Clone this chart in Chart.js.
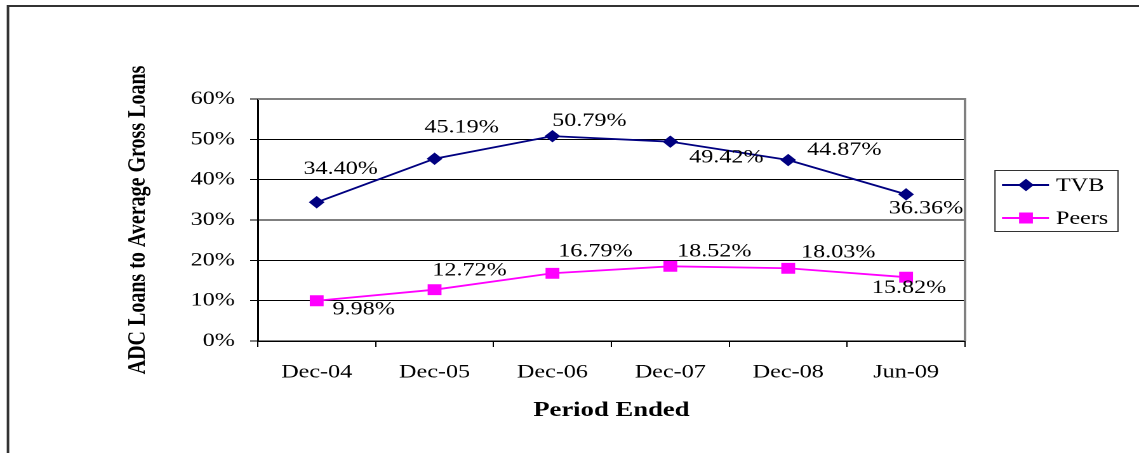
<!DOCTYPE html>
<html lang="en">
<head>
  <meta charset="UTF-8">
  <style>
    html, body { margin: 0; padding: 0; background: #fff; }
    #wrap { width: 1139px; height: 453px; overflow: hidden; }
    /* the reference is a stretched Excel chart, so draw narrow and widen it */
    #chart { display: block; background: #fff; transform-origin: 0 0; }
  </style>
</head>
<body>
  <div id="wrap"><canvas id="chart" width="897" height="453"></canvas></div>

  <script src="https://cdn.jsdelivr.net/npm/chart.js"></script>
  <script>
    // data
    const periods = ['Dec-04', 'Dec-05', 'Dec-06', 'Dec-07', 'Dec-08', 'Jun-09'];
    const tvb = [34.40, 45.19, 50.79, 49.42, 44.87, 36.36];
    const peers = [9.98, 12.72, 16.79, 18.52, 18.03, 15.82];
    const seriesNames = ['TVB', 'Peers'];

    // where each value label sits relative to its point (picture pixels)
    const tvbLabelPos = [[24, -33], [27, -31], [37, -15], [56, 16], [56, -10], [20, 14]];
    const peersLabelPos = [[47, 9], [35, -19], [43, -22], [44, -15], [50, -16], [3, 11]];

    const S = 1139 / 897;   // horizontal stretch
    const serif = "'Liberation Serif', 'Times New Roman', serif";
    const navy = '#000080';
    const magenta = '#ff00ff';

    document.getElementById('chart').style.transform = 'scaleX(' + S + ')';

    // frame, value labels and the boxed legend
    const extras = {
      id: 'extras',
      beforeDraw(chart) {
        const c = chart.ctx;
        c.save();
        c.strokeStyle = '#333';
        c.lineWidth = 2;
        c.strokeRect(6.3, 6, 1000, 500);
        c.restore();
      },
      beforeDatasetsDraw(chart) {
        const c = chart.ctx, a = chart.chartArea;
        c.save();
        c.strokeStyle = '#808080';
        c.lineWidth = 2;
        c.beginPath();
        c.moveTo(a.left, a.top);
        c.lineTo(a.right, a.top);
        c.lineTo(a.right, a.bottom);
        c.stroke();
        c.restore();
      },
      afterDatasetsDraw(chart) {
        const c = chart.ctx;
        c.save();
        c.font = '19px ' + serif;
        c.fillStyle = '#000';
        c.textAlign = 'center';
        c.textBaseline = 'middle';
        [tvbLabelPos, peersLabelPos].forEach((pos, di) => {
          const meta = chart.getDatasetMeta(di);
          meta.data.forEach((pt, i) => {
            const v = chart.data.datasets[di].data[i];
            c.fillText(v.toFixed(2) + '%', pt.x + pos[i][0] / S, pt.y + pos[i][1]);
          });
        });

        // legend
        const bx = 995 / S, bw = 123 / S;
        c.strokeStyle = '#333';
        c.lineWidth = 1;
        c.strokeRect(bx, 170.5, bw, 61);
        const rows = [185, 218];
        chart.data.datasets.forEach((ds, di) => {
          const y = rows[di];
          c.strokeStyle = ds.borderColor;
          c.fillStyle = ds.backgroundColor;
          c.lineWidth = 2;
          c.beginPath();
          c.moveTo(1002 / S, y);
          c.lineTo(1049 / S, y);
          c.stroke();
          c.lineWidth = 1;
          Chart.helpers.drawPoint(c, {
            pointStyle: ds.pointStyle, rotation: 0, radius: ds.pointRadius, borderWidth: 1
          }, 1026 / S, y);
          c.fillStyle = '#000';
          c.textAlign = 'left';
          c.fillText(ds.label, 1056 / S, y + 1);
        });
        c.restore();
      }
    };

    const ctx = document.getElementById('chart');

    new Chart(ctx, {
      type: 'line',
      data: {
        labels: periods,
        datasets: [{
          label: seriesNames[0],
          data: tvb,
          borderColor: navy,
          backgroundColor: navy,
          borderWidth: 1.8,
          pointStyle: 'rectRot',
          pointRadius: 5.5,
          pointBorderWidth: 1,
          tension: 0
        }, {
          label: seriesNames[1],
          data: peers,
          borderColor: magenta,
          backgroundColor: magenta,
          borderWidth: 1.8,
          pointStyle: 'rect',
          pointRadius: 7,
          pointBorderWidth: 1,
          tension: 0
        }]
      },
      options: {
        responsive: false,
        animation: false,
        devicePixelRatio: 2,
        layout: { padding: { left: 97, top: 99, right: 137, bottom: 0 } },
        plugins: {
          legend: { display: false },
          tooltip: { enabled: false }
        },
        scales: {
          x: {
            offset: true,
            afterFit: (s) => { s.height = 112; },
            grid: {
              offset: true,
              drawOnChartArea: false,
              color: '#000',
              tickLength: 6
            },
            border: { color: '#000', width: 1.5 },
            ticks: {
              color: '#000',
              padding: 14,
              maxRotation: 0,
              font: { family: serif, size: 19 }
            },
            title: {
              display: true,
              text: 'Period Ended',
              color: '#000',
              padding: { top: 0, bottom: 30 },
              font: { family: serif, size: 21, weight: 'bold' }
            }
          },
          y: {
            min: 0,
            max: 60,
            afterFit: (s) => { s.width = 106; },
            grid: { color: '#000', lineWidth: 1, tickLength: 6 },
            border: { color: '#000', width: 1.5 },
            ticks: {
              stepSize: 10,
              color: '#000',
              padding: 12,
              font: { family: serif, size: 19 },
              callback: (v) => v + '%'
            },
            title: {
              display: true,
              text: 'ADC Loans to Average Gross Loans',
              color: '#000',
              padding: { top: 0, bottom: 0 },
              font: { family: serif, size: 20, weight: 'bold' }
            }
          }
        }
      },
      plugins: [extras]
    });
  </script>
</body>
</html>
